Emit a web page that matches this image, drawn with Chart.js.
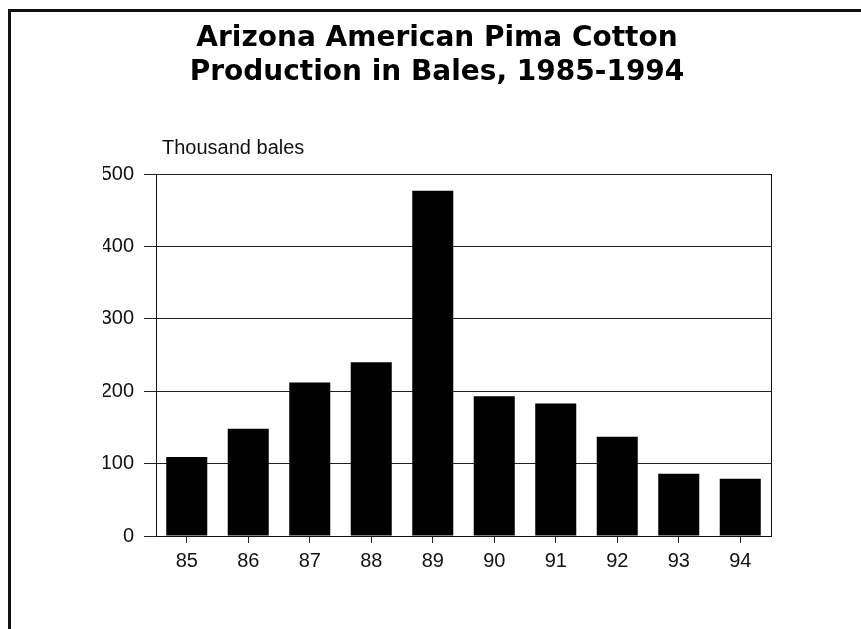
<!DOCTYPE html>
<html>
<head>
<meta charset="utf-8">
<script src="https://cdn.jsdelivr.net/npm/chart.js@4.4.1/dist/chart.umd.min.js"></script>
<style>
  html, body { margin: 0; padding: 0; background: #fff; overflow: hidden; }
  #wrap { position: relative; width: 861px; height: 629px; }
  #frame {
    position: absolute; left: 8px; top: 9px; width: 900px; height: 700px;
    border-left: 3px solid #111; border-top: 3px solid #111; pointer-events: none;
  }
</style>
</head>
<body>
<div id="wrap">
  <canvas id="bars" width="861" height="629"></canvas>
  <div id="frame"></div>
</div>
<script>
// data
const years = ['85', '86', '87', '88', '89', '90', '91', '92', '93', '94'];
const bales = [109, 148, 212, 240, 477, 193, 183, 137, 86, 79];
const yTicks = [0, 100, 200, 300, 400, 500];

const font = 'Liberation Sans, Arial, Helvetica, sans-serif';

// y-axis caption and right edge of the plot box
const extras = {
  id: 'extras',
  afterDraw(chart) {
    const ctx = chart.ctx;
    const a = chart.chartArea;
    ctx.save();
    ctx.strokeStyle = '#111';
    ctx.lineWidth = 1;
    ctx.beginPath();
    ctx.moveTo(a.right + 0.5, a.top);
    ctx.lineTo(a.right + 0.5, a.bottom);
    ctx.stroke();
    ctx.fillStyle = '#111';
    ctx.font = '20px ' + font;
    ctx.textAlign = 'left';
    ctx.textBaseline = 'alphabetic';
    ctx.fillText('Thousand bales', a.left + 6, a.top - 20);
    ctx.restore();
  }
};

const barCtx = document.getElementById('bars');
window.myBars = new Chart(barCtx, {
  type: 'bar',
  data: {
    labels: years,
    datasets: [{
      data: bales,
      backgroundColor: '#000',
      borderWidth: 0,
      barPercentage: 0.667,
      categoryPercentage: 1
    }]
  },
  options: {
    responsive: false,
    animation: false,
    layout: { padding: { left: 103, right: 90, top: 0, bottom: 0 } },
    plugins: {
      legend: { display: false },
      tooltip: { enabled: false },
      title: {
        display: true,
        text: ['Arizona American Pima Cotton', 'Production in Bales, 1985-1994'],
        color: '#000',
        font: { family: 'DejaVu Sans, sans-serif', size: 28, weight: 'bold', lineHeight: 34 / 28 },
        padding: { top: 22, bottom: 84 }
      }
    },
    scales: {
      x: {
        afterFit(scale) { scale.height = 93; },
        grid: { display: true, drawOnChartArea: false, offset: false, tickLength: 7, color: '#222' },
        border: { color: '#111', width: 1 },
        ticks: { color: '#111', padding: 6, font: { family: font, size: 20 } }
      },
      y: {
        min: 0,
        max: 500,
        afterFit(scale) { scale.width = 53; },
        afterBuildTicks(scale) { scale.ticks = yTicks.map(v => ({ value: v })); },
        grid: { color: '#222', lineWidth: 1, tickLength: 12 },
        border: { color: '#111', width: 1 },
        ticks: { color: '#111', padding: 10, font: { family: font, size: 20 } }
      }
    }
  },
  plugins: [extras]
});
</script>
</body>
</html>
